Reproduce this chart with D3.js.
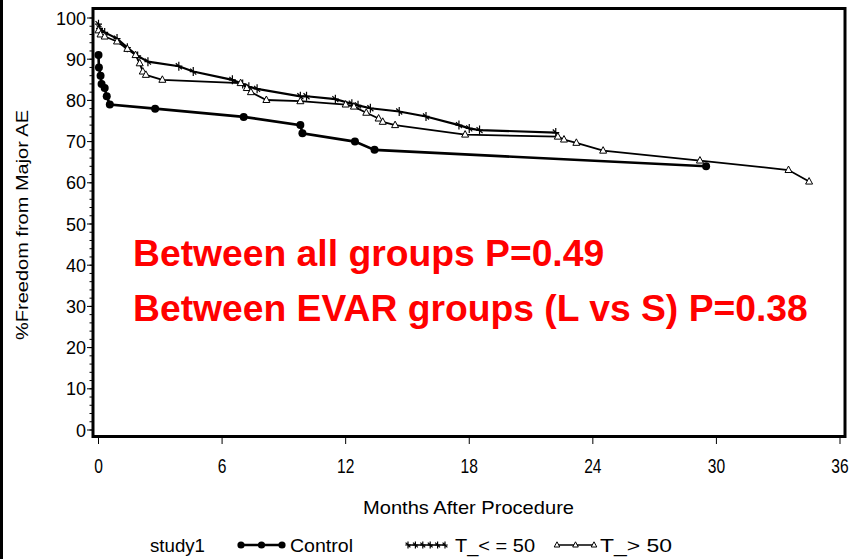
<!DOCTYPE html>
<html>
<head>
    <meta charset="utf-8">
    <script src="https://d3js.org/d3.v7.min.js"></script>
    <style>
        body { margin: 0; background: #fff; overflow: hidden; }
        svg { display: block; }
    </style>
</head>
<body>
    <div id="chart"></div>
    <script>
        // Kaplan-Meier style curves (months, % free)
        var controlT = [0, 0.02, 0.1, 0.15, 0.3, 0.4, 0.55, 2.75, 7.05, 9.8, 9.9, 12.45, 13.4, 29.5];
        var controlS = [91, 88, 86, 84, 83, 81, 79, 78, 76, 74, 72, 70, 68, 64];

        var lowT = [0, 0.05, 0.3, 0.9, 1.4, 1.9, 2.4, 3.9, 4.6, 6.5, 7.0, 7.3, 7.7, 9.8, 10.1, 11.5, 12.3, 12.6, 13.2, 14.6, 15.9, 17.5, 18.0, 18.5, 22.2];
        var lowS = [98.5, 97.5, 96.5, 95, 92.8, 90.8, 89.4, 88.3, 87, 85, 84, 83.3, 82.8, 81, 81, 80.3, 79.2, 78.8, 78.1, 77.3, 76.1, 74, 73.2, 72.8, 72.2];

        var highT = [0, 0.1, 0.3, 0.9, 1.4, 1.8, 2.0, 2.15, 2.3, 3.1, 6.9, 7.2, 7.4, 8.15, 9.8, 12.0, 12.4, 13.0, 13.6, 13.8, 14.4, 17.8, 22.3, 22.6, 23.2, 24.5, 29.2, 33.5, 34.5];
        var highS = [97, 96, 95.5, 94.3, 92.5, 91, 89, 87, 86.2, 85, 84.2, 83, 82, 80.1, 79.8, 79, 78.5, 77, 75.6, 74.8, 74, 71.7, 71.2, 70.5, 69.7, 67.8, 65.4, 63.1, 60.3];

        var xTicks = [0, 6, 12, 18, 24, 30, 36];
        var yTicks = [0, 10, 20, 30, 40, 50, 60, 70, 80, 90, 100];
        var yMinor = d3.range(0, 101, 2);

        var legendTitle = "study1";
        var legendLabels = ["Control", "T_< = 50", "T_> 50"];
        var notes = ["Between all groups P=0.49", "Between EVAR groups (L vs S) P=0.38"];

        var width = 855, height = 559;
        var font = "'Liberation Sans', Arial, sans-serif";

        var svg = d3.select("#chart").append("svg")
            .attr("width", width).attr("height", height);

        // left page edge
        svg.append("rect").attr("x", 0).attr("y", 0).attr("width", 3).attr("height", height).attr("fill", "#000");

        var x = d3.scaleLinear().domain([0, 36]).range([98.5, 840]);
        var y = d3.scaleLinear().domain([0, 100]).range([430, 18]);

        // frame
        svg.append("rect")
            .attr("x", 93).attr("y", 8.5).attr("width", 752).attr("height", 428)
            .attr("fill", "none").attr("stroke", "#000").attr("stroke-width", 3);

        // y axis ticks
        svg.selectAll(".ymin").data(yMinor).enter().append("line")
            .attr("x1", 89.5).attr("x2", 92).attr("y1", d => y(d)).attr("y2", d => y(d))
            .attr("stroke", "#000").attr("stroke-width", 1);
        svg.selectAll(".ymaj").data(yTicks).enter().append("line")
            .attr("x1", 87).attr("x2", 92).attr("y1", d => y(d)).attr("y2", d => y(d))
            .attr("stroke", "#000").attr("stroke-width", 1);
        svg.selectAll(".ylab").data(yTicks).enter().append("text")
            .attr("x", 86).attr("y", d => y(d) + 6.5)
            .attr("text-anchor", "end")
            .style("font", "18px " + font)
            .text(d => d);

        // x axis ticks (condensed digits like the SAS output)
        svg.selectAll(".xmaj").data(xTicks).enter().append("line")
            .attr("x1", d => x(d)).attr("x2", d => x(d)).attr("y1", 438).attr("y2", 444)
            .attr("stroke", "#000").attr("stroke-width", 1);
        svg.selectAll(".xlab").data(xTicks).enter().append("text")
            .attr("transform", d => `translate(${x(d)},473) scale(0.78,1)`)
            .attr("text-anchor", "middle")
            .style("font", "20px " + font)
            .text(d => d);

        svg.append("text")
            .attr("x", 363).attr("y", 514)
            .attr("textLength", 211).attr("lengthAdjust", "spacingAndGlyphs")
            .style("font", "19px " + font)
            .text("Months After Procedure");

        svg.append("text")
            .attr("transform", "translate(28,340) rotate(-90)")
            .attr("textLength", 230).attr("lengthAdjust", "spacingAndGlyphs")
            .style("font", "17px " + font)
            .text("%Freedom from Major AE");

        // curves
        var line = d3.line().x(d => x(d[0])).y(d => y(d[1]));
        var series = [
            { pts: d3.zip(controlT, controlS), w: 2.6, mark: "dot" },
            { pts: d3.zip(lowT, lowS), w: 2.2, mark: "plus" },
            { pts: d3.zip(highT, highS), w: 1.8, mark: "tri" }
        ];

        var plot = svg.append("g");
        series.forEach(s => {
            plot.append("path").datum(s.pts).attr("d", line)
                .attr("fill", "none").attr("stroke", "#000").attr("stroke-width", s.w);
        });
        series.forEach(s => {
            drawMarks(plot, s.pts.map(p => [x(p[0]), y(p[1])]), s.mark, 1);
        });

        function drawMarks(g, xy, kind, k) {
            xy.forEach(p => {
                if (kind == "dot") {
                    g.append("circle").attr("cx", p[0]).attr("cy", p[1]).attr("r", 4 * k).attr("fill", "#000");
                } else if (kind == "plus") {
                    g.append("path")
                        .attr("d", `M${p[0]},${p[1] - 4.5 * k}V${p[1] + 4.5 * k}M${p[0] - 3.5 * k},${p[1]}H${p[0] + 3.5 * k}M${p[0] - 3 * k},${p[1] - 3 * k}L${p[0] + 3 * k},${p[1] + 3 * k}`)
                        .attr("stroke", "#000").attr("stroke-width", 1.2);
                } else {
                    g.append("path")
                        .attr("d", `M${p[0]},${p[1] - 4 * k}L${p[0] + 3.5 * k},${p[1] + 2.5 * k}H${p[0] - 3.5 * k}Z`)
                        .attr("fill", "#fff").attr("stroke", "#000").attr("stroke-width", 1);
                }
            });
        }

        // legend
        var ly = 545;
        var legendText = [
            { t: legendTitle, x: 150, w: 55 },
            { t: legendLabels[0], x: 290, w: 63 },
            { t: legendLabels[1], x: 455, w: 80 },
            { t: legendLabels[2], x: 600, w: 72 }
        ];
        legendText.forEach(d => {
            svg.append("text").attr("x", d.x).attr("y", ly + 7)
                .attr("textLength", d.w).attr("lengthAdjust", "spacingAndGlyphs")
                .style("font", "18px " + font).text(d.t);
        });
        var legendItems = [
            { x0: 241, x1: 282, mark: "dot", n: 3 },
            { x0: 408, x1: 445, mark: "plus", n: 6 },
            { x0: 557, x1: 594, mark: "tri", n: 3 }
        ];
        legendItems.forEach(it => {
            svg.append("line").attr("x1", it.x0).attr("x2", it.x1).attr("y1", ly).attr("y2", ly)
                .attr("stroke", "#000").attr("stroke-width", it.mark == "dot" ? 2.5 : 1.5);
            var pts = d3.range(it.n).map(k => [it.x0 + k * (it.x1 - it.x0) / (it.n - 1), ly]);
            drawMarks(svg, pts, it.mark, it.mark == "dot" ? 0.9 : 0.8);
        });

        // p-value notes
        var noteG = svg.append("g");
        var n1 = noteG.append("text").attr("x", 133).attr("y", 266).text(notes[0]);
        var n2 = noteG.append("text").attr("x", 133).attr("y", 321).text(notes[1]);
        noteG.selectAll("text").attr("fill", "#ff0000")
            .style("font-family", font).style("font-weight", "bold").style("font-size", "36px");
        var fs = 36 * 675 / n2.node().getComputedTextLength();
        noteG.selectAll("text").style("font-size", fs + "px");
    </script>
</body>
</html>
